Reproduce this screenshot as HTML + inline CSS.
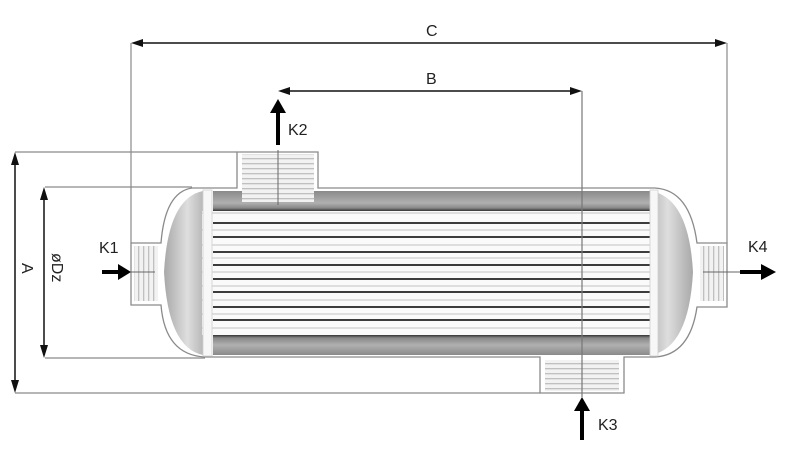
<!DOCTYPE html>
<html><head><meta charset="utf-8"><style>
html,body{margin:0;padding:0;background:#fff;}
svg{display:block;}
text{font-family:"Liberation Sans",sans-serif;font-size:16px;fill:#222;}
</style></head><body>
<svg width="787" height="465" viewBox="0 0 787 465" xmlns="http://www.w3.org/2000/svg">
<defs>
<linearGradient id="dome" x1="0" x2="1" y1="0" y2="0">
<stop offset="0" stop-color="#a8a8a8"/><stop offset="0.6" stop-color="#dedede"/><stop offset="1" stop-color="#b8b8b8"/></linearGradient>
<linearGradient id="domeR" x1="1" x2="0" y1="0" y2="0">
<stop offset="0" stop-color="#a8a8a8"/><stop offset="0.6" stop-color="#dedede"/><stop offset="1" stop-color="#b8b8b8"/></linearGradient>
<linearGradient id="band" x1="0" x2="0" y1="0" y2="1">
<stop offset="0" stop-color="#8a8a8a"/><stop offset="0.6" stop-color="#b0b0b0"/><stop offset="0.85" stop-color="#888"/><stop offset="1" stop-color="#333"/></linearGradient>
<linearGradient id="bandB" x1="0" x2="0" y1="0" y2="1">
<stop offset="0" stop-color="#333"/><stop offset="0.15" stop-color="#888"/><stop offset="0.5" stop-color="#b0b0b0"/><stop offset="1" stop-color="#8a8a8a"/></linearGradient>
<pattern id="thread" width="4" height="5" patternUnits="userSpaceOnUse">
<rect width="4" height="5" fill="#f2f2f2"/><rect y="3" width="4" height="1.3" fill="#c0c0c0"/></pattern>
<pattern id="threadV" width="5" height="4" patternUnits="userSpaceOnUse">
<rect width="5" height="4" fill="#f2f2f2"/><rect x="3" width="1.3" height="4" fill="#c0c0c0"/></pattern>
</defs>

<g stroke="#8a8a8a" stroke-width="1.2" fill="none">
<path d="M15 152 H237 M15 393 H540 M45 187 H192 M45 358 H205"/>
<path d="M131 43 V243 M727 43 V243"/>
</g>

<path d="M192 188 H237 V152 H318 V188 H655 Q690 190 697 243 H727 V307 H697 Q690 355 655 357 H624 V393 H540 V357 H205 Q165 355 161 305 H131 V243 H161 Q165 192 192 188 Z" fill="#fff" stroke="#8a8a8a" stroke-width="1.3"/>

<path d="M203 191 Q168 198 164 272 Q168 348 203 355 Z" fill="url(#dome)"/>
<path d="M651 191 Q689 198 693 272 Q689 348 651 355 Z" fill="url(#domeR)"/>

<rect x="213" y="191" width="437" height="20" fill="url(#band)"/>
<rect x="213" y="335" width="437" height="20" fill="url(#bandB)"/>

<rect x="202" y="211" width="455" height="124" fill="#fafafa"/>
<g stroke="#222" stroke-width="1.8">
<path d="M213 223 H650 M213 237 H650 M213 252 H650 M213 265 H650 M213 279 H650 M213 292 H650 M213 307 H650 M213 320 H650"/>
</g>
<g stroke="#d4d4d4" stroke-width="1.5">
<path d="M202 213 H657 M202 230 H657 M202 245 H657 M202 258 H657 M202 272 H657 M202 286 H657 M202 300 H657 M202 314 H657 M202 328 H657"/>
</g>
<rect x="203" y="190" width="9" height="166" fill="#f7f7f7" stroke="#cfcfcf" stroke-width="0.8"/>
<rect x="650" y="190" width="8" height="166" fill="#f7f7f7" stroke="#cfcfcf" stroke-width="0.8"/>

<rect x="242" y="154" width="72" height="48" fill="url(#thread)"/>
<rect x="545" y="360" width="74" height="31" fill="url(#thread)"/>
<rect x="134" y="246" width="24" height="55" fill="url(#threadV)"/>
<rect x="700" y="246" width="24" height="55" fill="url(#threadV)"/>

<g stroke="#666" stroke-width="1">
<path d="M278 150 V205 M131 272 H155 M703 272 H740"/>
</g>
<path d="M582 91 V397" stroke="#777" stroke-width="1.2"/>

<g stroke="#111" stroke-width="1.5">
<path d="M135 43 H722 M283 91 H577 M15 157 V388 M44 192 V353"/>
</g>
<g fill="#111">
<path d="M131 43 l12 -4 v8 z M727 43 l-12 -4 v8 z"/>
<path d="M278 91 l12 -4 v8 z M582 91 l-12 -4 v8 z"/>
<path d="M15 152 l-4 13 h8 z M15 393 l-4 -13 h8 z"/>
<path d="M44 187 l-4 13 h8 z M44 358 l-4 -13 h8 z"/>
</g>

<g stroke="#000" stroke-width="4">
<path d="M102 272 H120 M278 145 V112 M582 440 V410 M740 272 H762"/>
</g>
<g fill="#000">
<path d="M131 272 l-13 -8 v16 z"/>
<path d="M278 99 l-8 14 h16 z"/>
<path d="M582 397 l-8 14 h16 z"/>
<path d="M776 272 l-15 -8 v16 z"/>
</g>

<text x="426" y="36">C</text>
<text x="426" y="84">B</text>
<text x="288" y="135">K2</text>
<text x="99" y="253">K1</text>
<text x="748" y="252">K4</text>
<text x="598" y="430">K3</text>
<text transform="translate(22,263) rotate(90)">A</text>
<text transform="translate(52,253) rotate(90)">øDz</text>
</svg>
</body></html>
